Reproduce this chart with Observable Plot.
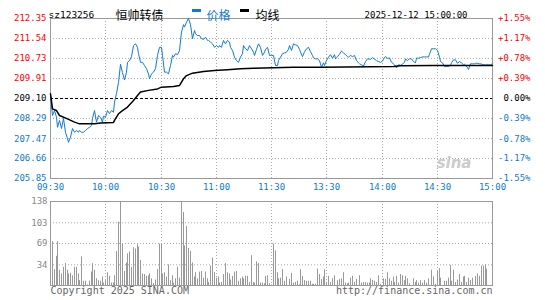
<!DOCTYPE html>
<html><head><meta charset="utf-8">
<script src="https://cdn.jsdelivr.net/npm/d3@7"></script>
<script src="https://cdn.jsdelivr.net/npm/@observablehq/plot@0.6"></script>
<style>
html,body{margin:0;padding:0;background:#fff;}
#chart{position:relative;width:545px;height:300px;overflow:hidden;background:#fff;}
#chart svg{position:absolute;left:0;}
.sw{position:absolute;height:3px;width:9px;}
</style></head><body><div id="chart"></div>
<script>
// ---- data ----
const code = "sz123256";
const bondName = "恒帅转债";
const legendNames = ["价格", "均线"];
const stamp = "2025-12-12 15:00:00";
const prevClose = 209.10;
const priceTicks = [212.35, 211.54, 210.73, 209.91, 209.10, 208.29, 207.47, 206.66, 205.85];
const pctLabels = ["+1.55%", "+1.17%", "+0.78%", "+0.39%", "0.00%", "-0.39%", "-0.78%", "-1.17%", "-1.55%"];
const timeLabels = ["09:30", "10:00", "10:30", "11:00", "11:30", "13:30", "14:00", "14:30", "15:00"];
const timeSlots = [0, 30, 60, 90, 120, 150, 180, 210, 240];
const volTicks = [138, 103, 69, 34];
// one price per trading minute, 09:30 .. 11:30, 13:01 .. 15:00
const price = [
  209.25,208.41,208.61,208.34,207.93,208.21,207.88,208.29,207.73,207.47,
  207.32,207.53,207.88,207.73,207.80,207.73,207.80,207.73,207.73,207.80,
  207.88,207.93,208.00,208.29,208.61,208.14,208.41,208.34,208.14,208.38,
  208.34,208.61,208.49,208.61,208.54,208.95,209.30,209.75,210.49,210.15,
  209.85,210.17,210.57,210.64,210.80,211.25,211.32,211.18,210.92,210.57,
  210.57,210.44,210.31,210.10,209.90,210.10,210.17,210.31,210.85,211.18,
  211.18,210.85,210.17,210.17,210.10,210.44,210.85,210.78,210.92,210.88,
  211.05,211.80,212.10,212.00,212.20,212.35,212.10,211.53,211.86,211.73,
  211.66,211.66,211.53,211.50,211.59,211.46,211.46,211.39,211.32,211.18,
  211.25,211.18,211.25,211.18,211.46,211.32,211.46,211.39,211.18,211.05,
  210.78,210.64,210.57,210.78,210.92,211.25,211.12,211.05,211.25,211.12,
  210.98,210.85,211.10,211.32,211.18,210.85,210.98,211.10,211.18,210.85,
  210.85,210.85,210.44,210.44,210.64,210.78,210.92,210.95,210.98,211.10,
  211.25,211.05,211.32,211.28,211.25,211.10,210.98,210.80,211.00,211.12,
  211.18,211.00,210.85,210.75,210.71,210.71,210.64,210.37,210.55,210.44,
  210.64,210.78,210.88,210.74,210.88,210.71,210.80,210.90,211.03,210.95,
  210.88,210.80,210.78,210.85,210.80,210.85,210.64,210.55,210.51,210.47,
  210.42,210.60,210.71,210.70,210.69,210.76,210.70,210.64,210.60,210.57,
  210.62,210.70,210.81,210.73,210.75,210.57,210.51,210.47,210.34,210.47,
  210.45,210.50,210.57,210.71,210.64,210.71,210.71,210.60,210.55,210.74,
  210.74,210.76,210.79,210.79,210.79,210.79,210.90,211.12,211.12,211.12,
  211.05,210.78,210.60,210.55,210.40,210.40,210.40,210.45,210.55,210.67,
  210.67,210.53,210.60,210.55,210.47,210.49,210.41,210.28,210.51,210.51,
  210.51,210.53,210.53,210.51,210.50,210.47,210.47,210.47,210.47,210.47,
  210.51
];
// average line read at its turning points
const avgSlot = [0,1,3,5,9,13,16,24,27,34,35,37,39,42,45,47,49,53,58,60,67,70,72,74,77,83,89,96,103,110,121,132,147,186,190,208,240];
const avgPrice = [209.29,208.68,208.61,208.41,208.27,208.14,208.07,208.07,208.10,208.13,208.21,208.48,208.61,208.75,209.02,209.22,209.36,209.43,209.49,209.56,209.59,209.63,209.90,210.03,210.13,210.20,210.24,210.27,210.31,210.33,210.35,210.37,210.37,210.40,210.43,210.44,210.44];
// volume per minute
const volume = [
  0,72,26,48,72,25,19,30,36,25,
  19,20,16,30,30,19,8,47,7,7,
  1,7,22,36,25,11,8,7,14,4,
  8,21,15,4,4,16,56,104,138,68,
  23,37,52,55,30,62,60,67,63,41,
  19,18,15,16,19,11,3,9,26,68,
  68,19,21,14,34,8,16,4,11,30,
  12,138,120,65,97,61,56,37,14,21,
  11,22,23,12,22,11,5,32,45,21,
  12,14,4,5,18,36,21,19,9,15,
  22,23,7,11,14,11,15,15,5,49,
  5,4,39,36,4,4,3,15,16,3,
  1,68,57,21,11,12,26,7,14,0,
  10,20,4,5,7,1,26,15,8,7,
  7,7,2,2,2,27,18,10,14,26,
  5,15,5,11,16,0,8,10,11,21,
  4,3,4,12,15,5,10,0,16,4,
  5,5,4,4,11,8,7,5,16,2,
  0,11,10,21,11,7,14,5,15,4,
  18,16,8,15,11,3,0,11,5,8,
  4,8,4,8,4,11,0,25,14,2,
  23,28,12,0,7,7,12,33,7,25,
  5,9,18,5,14,15,5,12,8,12,
  0,15,19,15,32,32,34,27,0,0,
  0
];

// ---- styles ----
const BLUE = "#0f7bd0", RED = "#ff0000", FRAME = "#999999", GRID = "#aaaaaa";
const MONO = "DejaVu Sans Mono";
const CJK = "Noto Sans CJK SC";
const FS = 9;
const sideColor = p => Math.abs(p - prevClose) < 1e-6 ? "#000000" : (p > prevClose ? RED : BLUE);

const pts = price.map((p, i) => ({i, p}));
const avg = avgSlot.map((s, k) => ({i: s, p: avgPrice[k]}));
const ticks = priceTicks.map((p, k) => ({p, pct: pctLabels[k], c: sideColor(p)}));
const times = timeSlots.map((s, k) => ({s, t: timeLabels[k]}));

const pricePlot = Plot.plot({
  width: 545, height: 196,
  marginLeft: 50, marginRight: 53, marginTop: 18, marginBottom: 18,
  x: {domain: [0, 240], axis: null, round: true},
  y: {domain: [205.85, 212.35], axis: null},
  color: {type: "identity"},
  style: {fontFamily: MONO, fontSize: "10px", background: "white", overflow: "visible"},
  marks: [
    Plot.ruleY(priceTicks.filter(d => Math.abs(d - prevClose) > 1e-6), {stroke: GRID, strokeDasharray: "1,2"}),
    Plot.ruleX(timeSlots, {stroke: GRID, strokeDasharray: "1,2"}),
    Plot.ruleY([prevClose], {stroke: "#000", strokeDasharray: "3,2"}),
    Plot.frame({stroke: FRAME}),
    Plot.text(["sina"], {frameAnchor: "bottom-right", dx: -21, dy: -11, fill: "#cccccc", fontSize: 15, fontWeight: "bold", fontStyle: "italic", fontFamily: "DejaVu Sans"}),
    Plot.line(pts, {x: "i", y: "p", stroke: BLUE, strokeWidth: 1}),
    Plot.line(avg, {x: "i", y: "p", stroke: "#000", strokeWidth: 1.5}),
    Plot.text(ticks, {y: "p", text: d => d.p.toFixed(2), frameAnchor: "left", dx: -4, textAnchor: "end", fill: "c", fontSize: FS}),
    Plot.text(ticks, {y: "p", text: "pct", frameAnchor: "right", dx: 38, textAnchor: "end", fill: "c", fontSize: FS}),
    Plot.text(times, {x: "s", text: "t", frameAnchor: "bottom", dy: 11, fill: BLUE, fontSize: FS}),
    Plot.text([code], {frameAnchor: "top-left", dx: -2, dy: -7, textAnchor: "start", fill: "#000", fontSize: 9.5}),
    Plot.text([bondName], {frameAnchor: "top-left", dx: 65, dy: -7, textAnchor: "start", fill: "#000", fontFamily: CJK, fontSize: 12}),
    Plot.text([legendNames[0]], {frameAnchor: "top-left", dx: 156, dy: -7, textAnchor: "start", fill: BLUE, fontFamily: CJK, fontSize: 12}),
    Plot.text([legendNames[1]], {frameAnchor: "top-left", dx: 205, dy: -7, textAnchor: "start", fill: "#000", fontFamily: CJK, fontSize: 12}),
    Plot.text([stamp], {frameAnchor: "top-right", dx: -25, dy: -7, textAnchor: "end", fill: "#000", fontSize: FS})
  ]
});

const vols = volume.map((v, i) => ({i, v})).filter(d => d.v > 0);
const volPlot = Plot.plot({
  width: 545, height: 104,
  marginLeft: 50, marginRight: 53, marginTop: 5, marginBottom: 15,
  x: {domain: [0, 240], axis: null, round: true},
  y: {domain: [0, 138], axis: null},
  style: {fontFamily: MONO, fontSize: "10px", background: "transparent", overflow: "visible"},
  marks: [
    Plot.ruleY(volTicks.filter(d => d < 138), {stroke: GRID, strokeDasharray: "1,2"}),
    Plot.ruleX(timeSlots, {stroke: GRID, strokeDasharray: "1,2"}),
    Plot.ruleX(vols, {x: "i", y1: 0, y2: "v", stroke: "#999999"}),
    Plot.frame({stroke: FRAME}),
    Plot.text(volTicks, {y: d => d, text: d => String(d), frameAnchor: "left", dx: -3, textAnchor: "end", fill: "#888888", fontSize: FS}),
    Plot.text(["Copyright 2025 SINA.COM"], {frameAnchor: "bottom-left", dy: 8, textAnchor: "start", fill: "#666666"}),
    Plot.text(["http://finance.sina.com.cn"], {frameAnchor: "bottom-right", dy: 8, textAnchor: "end", fill: "#666666"})
  ]
});

const chart = document.getElementById("chart");
pricePlot.style.top = "0px";
volPlot.style.top = "196px";
chart.appendChild(pricePlot);
chart.appendChild(volPlot);
const sw1 = document.createElement("div"); sw1.className = "sw"; sw1.style.cssText = "left:192px;top:9px;background:" + BLUE;
const sw2 = document.createElement("div"); sw2.className = "sw"; sw2.style.cssText = "left:240px;top:9px;background:#000";
chart.appendChild(sw1); chart.appendChild(sw2);
</script></body></html>
